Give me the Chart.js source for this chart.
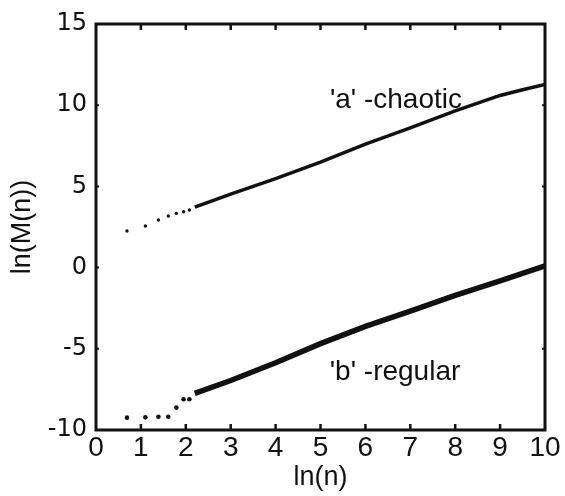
<!DOCTYPE html>
<html>
<head>
<meta charset="utf-8">
<script src="https://cdn.jsdelivr.net/npm/chart.js@4.4.1/dist/chart.umd.min.js"></script>
<style>
  html, body { margin: 0; padding: 0; background: #fff; }
  #wrap { width: 565px; height: 496px; }
</style>
</head>
<body>
<div id="wrap"><canvas id="grafico" width="565" height="496"></canvas></div>
<script>
// ln(n) of the first few n, where the points are still separate
const aDotsX = [0.69, 1.10, 1.39, 1.61, 1.79, 1.95, 2.08];
const aDotsY = [2.25, 2.56, 2.93, 3.18, 3.34, 3.44, 3.55];
// dense part of 'a' (reads as a solid line)
const aLineX = [2.2, 3, 4, 5, 6, 7, 8, 9, 9.5, 10];
const aLineY = [3.72, 4.52, 5.48, 6.5, 7.6, 8.6, 9.65, 10.6, 10.95, 11.28];

const bDotsX = [0.69, 1.10, 1.39, 1.61, 1.79, 1.95, 2.08];
const bDotsY = [-9.24, -9.22, -9.18, -9.18, -8.62, -8.11, -8.11];
const bLineX = [2.2, 3, 4, 5, 6, 7, 8, 9, 10];
const bLineY = [-7.75, -6.95, -5.86, -4.68, -3.62, -2.68, -1.71, -0.82, 0.1];

const xTicks = [0, 1, 2, 3, 4, 5, 6, 7, 8, 9, 10];
const yTicks = [-10, -5, 0, 5, 10, 15];

const etiquetas = [
    { texto: "'a' -chaotic", x: 6.68, y: 10.3 },
    { texto: "'b' -regular", x: 6.66, y: -6.45 }
];

const puntos = (xs, ys) => xs.map((x, i) => ({ x: x, y: ys[i] }));
const negro = "#111";

// frame, inward tick marks and the two curve labels
const marco = {
    id: "marco",
    afterDraw(chart) {
        const ctx = chart.ctx;
        const a = chart.chartArea;
        const sx = chart.scales.x, sy = chart.scales.y;
        ctx.save();
        ctx.strokeStyle = negro;
        ctx.lineWidth = 3;
        ctx.strokeRect(a.left, a.top, a.right - a.left, a.bottom - a.top);
        ctx.lineWidth = 2.5;
        xTicks.slice(1, -1).forEach(v => {
            const px = sx.getPixelForValue(v);
            ctx.beginPath();
            ctx.moveTo(px, a.top); ctx.lineTo(px, a.top + 6);
            ctx.moveTo(px, a.bottom); ctx.lineTo(px, a.bottom - 6);
            ctx.stroke();
        });
        ctx.lineWidth = 2;
        yTicks.slice(1, -1).forEach(v => {
            const py = sy.getPixelForValue(v);
            ctx.beginPath();
            ctx.moveTo(a.left, py); ctx.lineTo(a.left + 3, py);
            ctx.moveTo(a.right, py); ctx.lineTo(a.right - 3, py);
            ctx.stroke();
        });
        ctx.fillStyle = negro;
        ctx.font = "28px 'Liberation Sans', Arial, sans-serif";
        ctx.textAlign = "center";
        ctx.textBaseline = "middle";
        etiquetas.forEach(e => {
            ctx.fillText(e.texto, sx.getPixelForValue(e.x), sy.getPixelForValue(e.y));
        });
        ctx.restore();
    }
};

new Chart(document.getElementById("grafico").getContext("2d"), {
    type: "scatter",
    data: {
        datasets: [
            { label: "a dots", data: puntos(aDotsX, aDotsY), pointRadius: 1.7, pointBackgroundColor: negro, pointBorderWidth: 0, showLine: false },
            { label: "a", data: puntos(aLineX, aLineY), showLine: true, borderColor: negro, borderWidth: 3.5, pointRadius: 0, tension: 0 },
            { label: "b dots", data: puntos(bDotsX, bDotsY), pointRadius: 2.3, pointBackgroundColor: negro, pointBorderWidth: 0, showLine: false },
            { label: "b", data: puntos(bLineX, bLineY), showLine: true, borderColor: negro, borderWidth: 5.5, pointRadius: 0, tension: 0 }
        ]
    },
    options: {
        responsive: false,
        animation: false,
        layout: { padding: { top: 24, right: 20, left: 0, bottom: 0 } },
        plugins: { legend: { display: false }, tooltip: { enabled: false } },
        scales: {
            x: {
                type: "linear", min: 0, max: 10,
                afterBuildTicks: s => { s.ticks = xTicks.map(v => ({ value: v })); },
                afterFit: s => { s.height = 66; },
                grid: { display: false, drawTicks: false },
                border: { display: false },
                ticks: { color: negro, padding: 1, font: { family: "'Liberation Sans', Arial, sans-serif", size: 28 } },
                title: { display: true, text: "ln(n)", color: negro, padding: { top: 0, bottom: 2 }, font: { family: "'Liberation Sans', Arial, sans-serif", size: 27 } }
            },
            y: {
                type: "linear", min: -10, max: 15,
                afterBuildTicks: s => { s.ticks = yTicks.map(v => ({ value: v })); },
                afterFit: s => { s.width = 96; },
                grid: { display: false, drawTicks: false },
                border: { display: false },
                ticks: { color: negro, padding: 9, font: { family: "'DejaVu Sans', sans-serif", size: 24 } },
                title: { display: true, text: "ln(M(n))", color: negro, padding: { top: 6, bottom: 0 }, font: { family: "'Liberation Sans', Arial, sans-serif", size: 27 } }
            }
        }
    },
    plugins: [marco]
});
</script>
</body>
</html>
